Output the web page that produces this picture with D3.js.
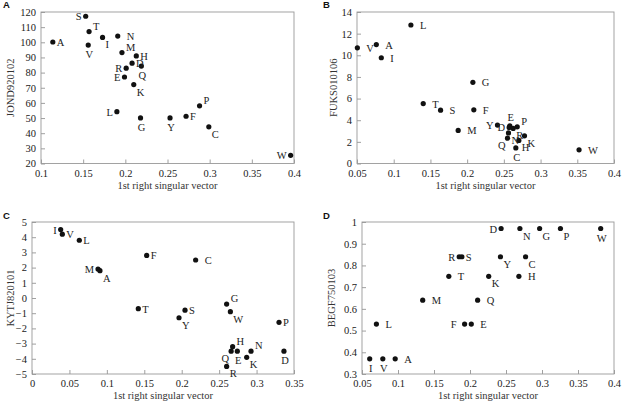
<!DOCTYPE html>
<html><head><meta charset="utf-8">
<script src="https://cdn.jsdelivr.net/npm/d3@7"></script>
<style>body{margin:0;background:#fff}svg{display:block}</style>
</head><body><svg id="c" width="639" height="407"></svg>
<script>
// ---- Panel A: JOND920102 ----
const aLetters = ["S","T","N","I","A","V","M","H","D","R","Q","E","K","L","G","Y","F","P","C","W"];
const aX = [0.153,0.157,0.191,0.173,0.114,0.156,0.196,0.213,0.208,0.201,0.219,0.199,0.210,0.190,0.218,0.253,0.272,0.288,0.299,0.396];
const aY = [117.2,107.1,104.1,103.2,100.2,98.2,93.2,91.0,86.2,82.9,84.3,77.1,72.1,54.2,50.1,50.1,51.2,58.1,44.2,25.4];
const aPos = ["l","tr","R","br","r","b","tr","r","r","l","b","l","br","l","b","b","r","tr","br","l"];
const aXTicks = [0.1,0.15,0.2,0.25,0.3,0.35,0.4];
const aYTicks = [20,30,40,50,60,70,80,90,100,110,120];

// ---- Panel B: FUKS010106 ----
const bLetters = ["L","V","A","I","G","T","S","F","M","Y","E","D","R","P","N","Q","K","H","C","W"];
const bX = [0.1234,0.0505,0.0763,0.0831,0.2078,0.1402,0.1638,0.2091,0.1878,0.2413,0.2581,0.2572,0.2627,0.2682,0.2563,0.2550,0.2781,0.2704,0.2663,0.3524];
const bY = [12.8,10.69,10.99,9.77,7.50,5.54,4.93,4.96,3.06,3.55,3.49,3.33,3.24,3.39,2.83,2.34,2.56,2.13,1.44,1.26];
const bPos = ["R","R","R","R","R","R","R","R","R","l","t","l","br","tr","br","bl","br","br","b","R"];
const bXTicks = [0.05,0.1,0.15,0.2,0.25,0.3,0.35,0.4];
const bYTicks = [0,2,4,6,8,10,12,14];

// ---- Panel C: KYTJ820101 ----
const cLetters = ["I","V","L","F","C","M","A","T","S","Y","G","W","P","H","N","D","E","Q","K","R"];
const cX = [0.0383,0.0405,0.0632,0.1532,0.2186,0.0882,0.0908,0.142,0.2044,0.1964,0.260,0.265,0.330,0.268,0.2926,0.3366,0.2743,0.266,0.2868,0.260];
const cY = [4.5,4.2,3.8,2.8,2.5,1.9,1.8,-0.7,-0.8,-1.3,-0.4,-0.9,-1.6,-3.2,-3.5,-3.5,-3.5,-3.5,-3.9,-4.5];
const cPos = ["l","r","r","r","R","l","br","r","r","br","tr","br","r","tr","tr","b","b","bl","br","br"];
const cXTicks = [0,0.05,0.1,0.15,0.2,0.25,0.3,0.35];
const cYTicks = [-5,-4,-3,-2,-1,0,1,2,3,4,5];

// ---- Panel D: BEGF750103 ----
const dLetters = ["D","N","G","P","W","R","S","Y","C","T","K","H","M","Q","L","F","E","I","V","A"];
const dX = [0.2432,0.2693,0.2967,0.3256,0.3815,0.185,0.1887,0.2423,0.2772,0.1706,0.226,0.2679,0.1343,0.2106,0.070,0.1925,0.2018,0.0607,0.0789,0.0961];
const dY = [0.97,0.97,0.97,0.97,0.97,0.84,0.84,0.84,0.84,0.75,0.75,0.75,0.64,0.64,0.53,0.53,0.53,0.37,0.37,0.37];
const dPos = ["l","br","br","br","b","l","r","br","br","R","br","R","R","R","R","L","R","b","b","R"];
const dXTicks = [0.05,0.1,0.15,0.2,0.25,0.3,0.35,0.4];
const dYTicks = [0.3,0.4,0.5,0.6,0.7,0.8,0.9,1];

const xTitle = "1st right singular vector";

const panels = [
  {tag:"A", title:"JOND920102", letters:aLetters, xs:aX, ys:aY, pos:aPos, xt:aXTicks, yt:aYTicks, xd:[0.1,0.4], yd:[20,120],
   box:[41,12,294,163.5], tagXY:[3,8], yTitleX:10, fmtY:d3.format("d")},
  {tag:"B", title:"FUKS010106", letters:bLetters, xs:bX, ys:bY, pos:bPos, xt:bXTicks, yt:bYTicks, xd:[0.05,0.4], yd:[0,14],
   box:[357,12,614,163.5], tagXY:[323,8], yTitleX:333, fmtY:d3.format("d")},
  {tag:"C", title:"KYTJ820101", letters:cLetters, xs:cX, ys:cY, pos:cPos, xt:cXTicks, yt:cYTicks, xd:[0,0.35], yd:[-5,5],
   box:[32,222,294,374], tagXY:[3,219], yTitleX:10, fmtY:d => d3.format("d")(d).replace("-","\u2212")},
  {tag:"D", title:"BEGF750103", letters:dLetters, xs:dX, ys:dY, pos:dPos, xt:dXTicks, yt:dYTicks, xd:[0.05,0.4], yd:[0.3,1],
   box:[362,222,614,374], tagXY:[323,219], yTitleX:331, fmtY:d => d===1 ? "1" : d3.format(".1f")(d)}
];

const offs = {
  r:["start",4,4], R:["start",9,4], l:["end",-4,4], L:["end",-8,4],
  b:["middle",1,13], t:["middle",1,-5], br:["start",3,11], bl:["end",-2,11], tr:["start",4,-2]
};

const svg = d3.select("#c");
const serif = "'Liberation Serif','Times New Roman',serif";
const fmtX = d => d===0 ? "0" : String(+d.toFixed(2));

panels.forEach(p => {
  const [x0,y0,x1,y1] = p.box;
  const x = d3.scaleLinear().domain(p.xd).range([x0,x1]);
  const y = d3.scaleLinear().domain(p.yd).range([y1,y0]);
  const g = svg.append("g");

  // axes with inward ticks
  const xa = g.append("g").attr("transform",`translate(0,${y1})`)
    .call(d3.axisBottom(x).tickValues(p.xt).tickSizeInner(-4).tickSizeOuter(0).tickPadding(6).tickFormat(fmtX));
  const ya = g.append("g").attr("transform",`translate(${x0},0)`)
    .call(d3.axisLeft(y).tickValues(p.yt).tickSizeInner(-4).tickSizeOuter(0).tickPadding(5).tickFormat(p.fmtY));
  [xa,ya].forEach(a => {
    a.select(".domain").remove();
    a.selectAll("line").attr("stroke","#888").attr("stroke-width",0.8);
    a.selectAll("text").attr("font-family",serif).attr("font-size",10.5).attr("fill","#222");
  });
  // frame
  g.append("rect").attr("x",x0).attr("y",y0).attr("width",x1-x0).attr("height",y1-y0)
    .attr("fill","none").attr("stroke","#999").attr("stroke-width",0.9);

  // titles
  g.append("text").attr("x",(x0+x1)/2).attr("y",y1+25).attr("text-anchor","middle")
    .attr("font-family",serif).attr("font-size",10.5).attr("fill","#333").text(xTitle);
  g.append("text").attr("transform",`translate(${p.yTitleX},${(y0+y1)/2}) rotate(-90)`)
    .attr("text-anchor","middle").attr("dy","0.35em")
    .attr("font-family",serif).attr("font-size",10.5).attr("fill","#333").text(p.title);
  g.append("text").attr("x",p.tagXY[0]).attr("y",p.tagXY[1])
    .attr("font-family","'Liberation Sans',Arial,sans-serif").attr("font-weight","bold")
    .attr("font-size",9.5).attr("fill","#111").text(p.tag);

  // points
  const data = p.letters.map((l,i) => ({l, x:p.xs[i], y:p.ys[i], pos:p.pos[i]}));
  g.selectAll("circle").data(data).join("circle")
    .attr("cx",d => x(d.x)).attr("cy",d => y(d.y)).attr("r",2.6).attr("fill","#111");
  g.selectAll("text.lab").data(data).join("text").attr("class","lab")
    .attr("x",d => x(d.x)+offs[d.pos][1]).attr("y",d => y(d.y)+offs[d.pos][2])
    .attr("text-anchor",d => offs[d.pos][0])
    .attr("font-family",serif).attr("font-size",10.5).attr("fill","#222").text(d => d.l);
});
</script></body></html>
